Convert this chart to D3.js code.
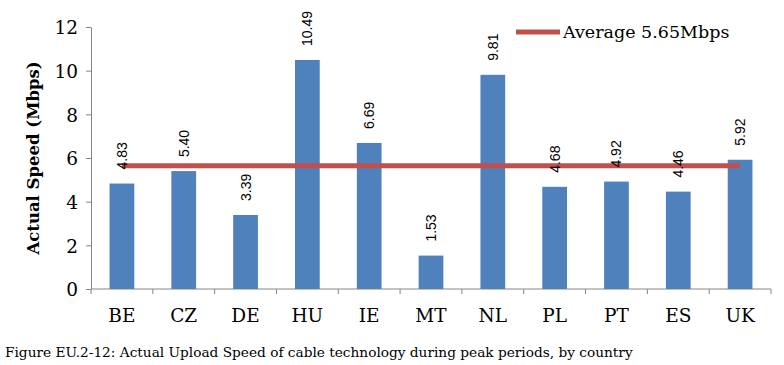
<!DOCTYPE html>
<html>
<head>
<meta charset="utf-8">
<script src="https://cdn.jsdelivr.net/npm/d3@7"></script>
<style>
  body { margin: 0; background: #fff; }
  .axis path, .axis line { stroke: #868686; }
  .axis text { font-family: 'DejaVu Serif', serif; font-size: 18.5px; fill: #000; }
</style>
</head>
<body>
<div id="chart"></div>
<script>
// chart data
const countries = ['BE', 'CZ', 'DE', 'HU', 'IE', 'MT', 'NL', 'PL', 'PT', 'ES', 'UK'];
const speeds = [4.83, 5.40, 3.39, 10.49, 6.69, 1.53, 9.81, 4.68, 4.92, 4.46, 5.92];
const average = 5.65;
const yTicks = [0, 2, 4, 6, 8, 10, 12];
const legendLabel = 'Average 5.65Mbps';
const yLabel = 'Actual Speed (Mbps)';
const caption = 'Figure EU.2-12: Actual Upload Speed of cable technology during peak periods, by country';

const width = 784, height = 365;
const margin = { top: 27, right: 13, bottom: 76, left: 91 };
const plotW = width - margin.left - margin.right;
const plotH = height - margin.top - margin.bottom;

const svg = d3.select('#chart').append('svg')
  .attr('width', width)
  .attr('height', height);

const xScale = d3.scaleBand()
  .domain(countries)
  .range([0, plotW])
  .paddingInner(0.6)
  .paddingOuter(0.3);

const xBand = d3.scaleBand()
  .domain(countries)
  .range([0, plotW])
  .padding(0);

const yScale = d3.scaleLinear()
  .domain([0, 12])
  .range([plotH, 0]);

const g = svg.append('g')
  .attr('transform', `translate(${margin.left},${margin.top})`);

// y axis
g.append('g')
  .attr('class', 'axis axis-y')
  .call(d3.axisLeft(yScale).tickValues(yTicks).tickSize(5).tickSizeOuter(0).tickPadding(8))
  .call(a => a.selectAll('text').attr('dy', '0.36em'));

// x axis with ticks between categories
const xAxis = g.append('g')
  .attr('class', 'axis axis-x')
  .attr('transform', `translate(0,${plotH})`);
xAxis.append('line')
  .attr('x1', 0).attr('x2', plotW)
  .attr('stroke', '#868686');
xAxis.selectAll('.sep')
  .data(countries.concat(['end']))
  .enter().append('line')
  .attr('class', 'sep')
  .attr('x1', (d, i) => i * xBand.step())
  .attr('x2', (d, i) => i * xBand.step())
  .attr('y1', 0).attr('y2', 5);
xAxis.selectAll('text')
  .data(countries)
  .enter().append('text')
  .attr('x', d => xBand(d) + xBand.bandwidth() / 2)
  .attr('y', 33)
  .attr('text-anchor', 'middle')
  .text(d => d);

// bars
g.append('g')
  .attr('class', 'bars')
  .selectAll('rect')
  .data(countries)
  .enter().append('rect')
  .attr('x', d => xScale(d))
  .attr('y', (d, i) => yScale(speeds[i]))
  .attr('width', xScale.bandwidth())
  .attr('height', (d, i) => plotH - yScale(speeds[i]))
  .attr('fill', '#4F81BD');

// average line
const avgLine = d3.line()
  .x(d => xScale(d) + xScale.bandwidth() / 2)
  .y(() => yScale(average));
g.append('path')
  .datum(countries)
  .attr('d', avgLine)
  .attr('fill', 'none')
  .attr('stroke', '#C0504D')
  .attr('stroke-width', 5);

// value labels
g.append('g')
  .selectAll('text')
  .data(countries)
  .enter().append('text')
  .attr('transform', (d, i) => {
    const x = xScale(d) + xScale.bandwidth() / 2 + 5;
    const y = yScale(speeds[i]) - 14;
    return `translate(${x},${y}) rotate(-90)`;
  })
  .attr('font-family', 'Liberation Sans, Arial, sans-serif')
  .attr('font-size', 14)
  .attr('fill', '#000')
  .text((d, i) => speeds[i].toFixed(2));

// y axis title
svg.append('text')
  .attr('transform', `translate(39,${margin.top + plotH / 2}) rotate(-90)`)
  .attr('text-anchor', 'middle')
  .attr('font-family', 'DejaVu Serif, serif')
  .attr('font-weight', 'bold')
  .attr('font-size', 16.5)
  .text(yLabel);

// legend
const legend = svg.append('g')
  .attr('transform', 'translate(516,32)');
legend.append('line')
  .attr('x1', 0).attr('x2', 44)
  .attr('stroke', '#C0504D')
  .attr('stroke-width', 5);
legend.append('text')
  .attr('x', 47)
  .attr('y', 6)
  .attr('font-family', 'DejaVu Serif, serif')
  .attr('font-size', 17.5)
  .text(legendLabel);

// caption
svg.append('text')
  .attr('x', 5)
  .attr('y', 357)
  .attr('font-family', 'DejaVu Serif, serif')
  .attr('font-size', 13.7)
  .text(caption);
</script>
</body>
</html>
